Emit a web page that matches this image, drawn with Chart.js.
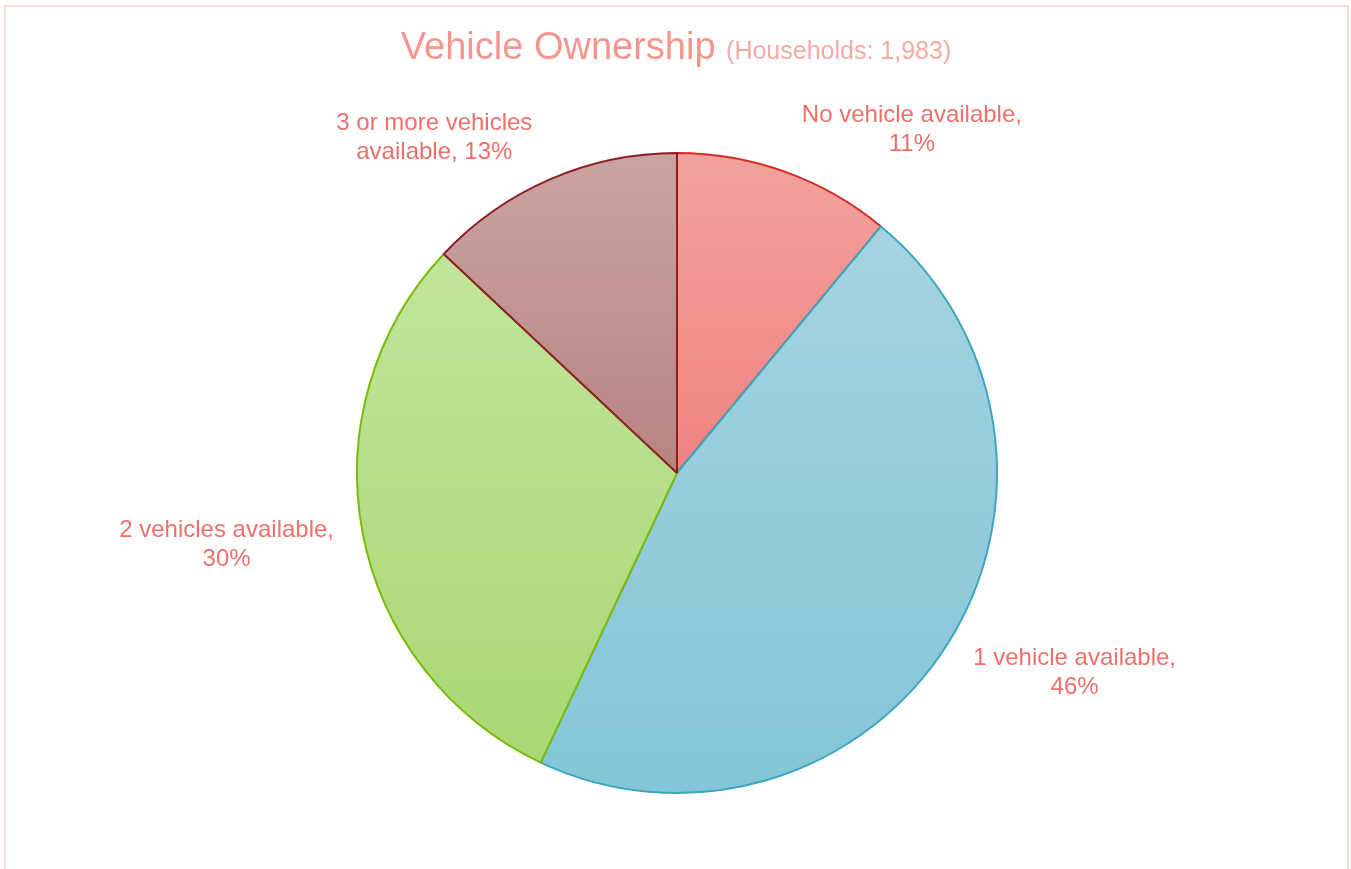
<!DOCTYPE html>
<html>
<head>
<meta charset="utf-8">
<script src="https://cdn.jsdelivr.net/npm/chart.js@4/dist/chart.umd.min.js"></script>
<style>
  html, body { margin: 0; padding: 0; background: #fff; overflow: hidden; }
  #frame {
    position: absolute; left: 4px; top: 5px; width: 1345px; height: 880px;
    border: 2px solid #fbdcd9; box-sizing: border-box;
  }
  #wrap { position: absolute; left: 0; top: 0; width: 1351px; height: 869px; }
</style>
</head>
<body>
<div id="frame"></div>
<div id="wrap"><canvas id="chart"></canvas></div>
<script>
// data
const categories = ["No vehicle available", "1 vehicle available", "2 vehicles available", "3 or more vehicles available"];
const shares = [11, 46, 30, 13];
const chartTitle = "Vehicle Ownership";
const chartSubtitle = "(Households: 1,983)";

// slice colours: top of gradient, bottom of gradient, edge
const topColors = ["#f2a29d", "#a9d5e1", "#c6e7a4", "#caa3a1"];
const bottomColors = ["#ee6461", "#84c5d8", "#a9d671", "#a56461"];
const edgeColors = ["#d42b25", "#3ba8c0", "#7cbb0a", "#8c1f24"];

const labelColor = "#ef6f6a";
const labelFont = '24px "Liberation Sans", Arial, sans-serif';

function sliceFill(ctx) {
  const chart = ctx.chart;
  const area = chart.chartArea;
  if (!area) return topColors[ctx.dataIndex];
  const g = chart.ctx.createLinearGradient(0, area.top, 0, area.bottom);
  g.addColorStop(0, topColors[ctx.dataIndex]);
  g.addColorStop(1, bottomColors[ctx.dataIndex]);
  return g;
}

function wrapText(c, text, maxW) {
  const words = text.split(" ");
  let lines = [];
  let cur = "";
  words.forEach((w) => {
    const test = cur ? cur + " " + w : w;
    if (cur && c.measureText(test).width > maxW) {
      lines.push(cur);
      cur = w;
    } else {
      cur = test;
    }
  });
  if (cur) lines.push(cur);
  return lines;
}

// outside labels, placed from each arc's own geometry
const sliceLabels = {
  id: "sliceLabels",
  afterDatasetsDraw(chart) {
    const c = chart.ctx;
    const meta = chart.getDatasetMeta(0);
    c.save();
    c.font = labelFont;
    c.fillStyle = labelColor;
    c.textAlign = "center";
    c.textBaseline = "middle";
    meta.data.forEach((arc, i) => {
      const mid = (arc.startAngle + arc.endAngle) / 2;
      const r = arc.outerRadius + 19;
      const ax = arc.x + Math.cos(mid) * r;
      const ay = arc.y + Math.sin(mid) * r;
      const lines = wrapText(c, categories[i] + ", " + shares[i] + "%", 245);
      const lh = 29;
      const h = lines.length * lh;
      const w = Math.max(...lines.map((l) => c.measureText(l).width));
      const side = Math.cos(mid) >= 0 ? 1 : -1;
      const cx = ax + side * (10 + w / 2);
      const cy = ay + (h / 2) * Math.sin(mid) + 3;
      lines.forEach((l, k) => {
        c.fillText(l, cx, cy - h / 2 + lh / 2 + k * lh);
      });
    });
    c.restore();
  },
};

const titlePlugin = {
  id: "titlePlugin",
  afterDraw(chart) {
    const c = chart.ctx;
    c.save();
    c.textBaseline = "alphabetic";
    c.textAlign = "left";
    const f1 = '38px "Liberation Sans", Arial, sans-serif';
    const f2 = '25px "Liberation Sans", Arial, sans-serif';
    c.font = f1;
    const w1 = c.measureText(chartTitle + " ").width;
    c.font = f2;
    const w2 = c.measureText(chartSubtitle).width;
    const x0 = 676 - (w1 + w2) / 2;
    c.font = f1;
    c.fillStyle = "#f4968f";
    c.fillText(chartTitle + " ", x0, 59);
    c.font = f2;
    c.fillStyle = "#f5aaa4";
    c.fillText(chartSubtitle, x0 + w1, 59);
    c.restore();
  },
};

const ctx = document.getElementById("chart").getContext("2d");
const myChart = new Chart(ctx, {
  type: "pie",
  data: {
    labels: categories,
    datasets: [
      {
        data: shares,
        backgroundColor: sliceFill,
        borderColor: edgeColors,
        borderWidth: 2,
      },
    ],
  },
  options: {
    responsive: true,
    maintainAspectRatio: false,
    animation: false,
    events: [],
    layout: { padding: { top: 152, bottom: 75, left: 3, right: 0 } },
    plugins: {
      legend: { display: false },
      tooltip: { enabled: false },
      title: { display: false },
    },
  },
  plugins: [sliceLabels, titlePlugin],
});
</script>
</body>
</html>
